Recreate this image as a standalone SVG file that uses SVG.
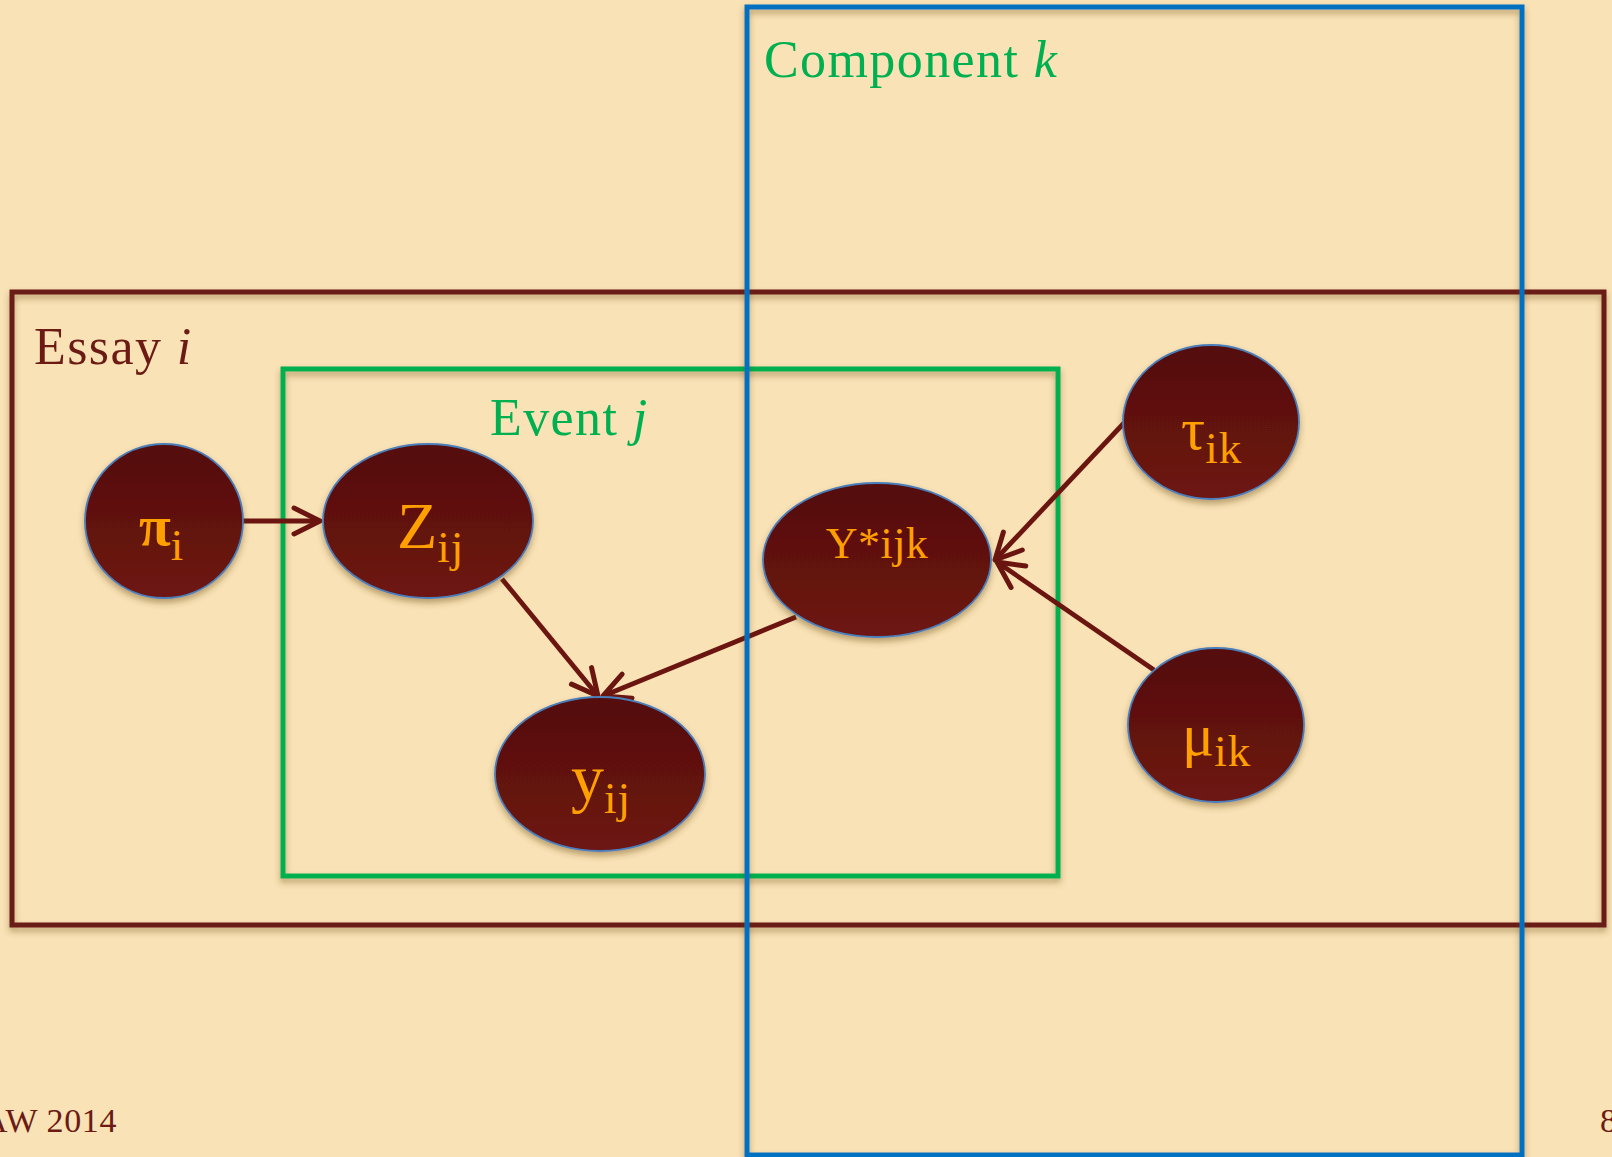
<svg xmlns="http://www.w3.org/2000/svg" width="1612" height="1157" viewBox="0 0 1612 1157">
<style>
.bg{fill:#f9e2b5}
.plate{fill:none;stroke-width:5;filter:url(#sh)}
.node ellipse{fill:url(#ng);stroke:#4a7ebb;stroke-width:1.8;filter:url(#sh)}
.lbl{font-family:"Liberation Serif","DejaVu Serif",serif;fill:#ffa000}
.sub{font-size:45px;letter-spacing:1px}
.title{font-family:"Liberation Serif","DejaVu Serif",serif;font-size:52px;letter-spacing:1.4px}
.foot{font-family:"Liberation Serif","DejaVu Serif",serif;font-size:34px;letter-spacing:0.6px;fill:#6b1a14}
.edge{stroke:#6b1510;stroke-width:4.8;fill:none;marker-end:url(#arr)}
</style>
<defs>
<linearGradient id="ng" x1="0" y1="0" x2="0" y2="1">
<stop offset="0" stop-color="#540e0e"/>
<stop offset="1" stop-color="#6e1512"/>
</linearGradient>
<filter id="sh" x="-20%" y="-20%" width="140%" height="140%">
<feDropShadow dx="0" dy="4" stdDeviation="3" flood-color="#5a3a10" flood-opacity="0.4"/>
</filter>
<marker id="arr" markerUnits="userSpaceOnUse" markerWidth="40" markerHeight="40" viewBox="-30 -20 40 40" refX="0" refY="0" orient="auto">
<path d="M-26,-13 L0,0 L-26,13" fill="none" stroke="#6b1510" stroke-width="5" stroke-linecap="round" stroke-linejoin="round"/>
</marker>
</defs>
<rect class="bg" x="0" y="0" width="1612" height="1157"/>
<g id="plate-essay">
<rect class="plate" x="12" y="292" width="1592" height="633" stroke="#6b1a14"/>
<text class="title" x="34" y="364" fill="#6b1a14">Essay <tspan font-style="italic">i</tspan></text>
</g>
<g id="plate-event">
<rect class="plate" x="283" y="369" width="775" height="507" stroke="#00b050"/>
<text class="title" x="490" y="435" fill="#00b050">Event <tspan font-style="italic">j</tspan></text>
</g>
<g id="connectors">
<line class="edge" x1="243" y1="521" x2="320" y2="521"/>
<line class="edge" x1="502" y1="579" x2="598" y2="696"/>
<line class="edge" x1="796" y1="617" x2="603" y2="696"/>
<line class="edge" x1="1124" y1="423" x2="995" y2="560"/>
<line class="edge" x1="1154" y1="670" x2="997" y2="562"/>
</g>
<g id="node-pi" class="node">
<ellipse cx="164" cy="521" rx="79" ry="77"/>
<text class="lbl" x="139" y="545" font-size="58" font-weight="bold">π<tspan class="sub" font-weight="normal" dy="15">i</tspan></text>
</g>
<g id="node-z" class="node">
<ellipse cx="428" cy="521" rx="105" ry="77"/>
<text class="lbl" x="397" y="548" font-size="66">Z<tspan class="sub" dy="14">ij</tspan></text>
</g>
<g id="node-y" class="node">
<ellipse cx="600" cy="774" rx="105" ry="77"/>
<text class="lbl" x="571" y="800" font-size="66">y<tspan class="sub" dy="13">ij</tspan></text>
</g>
<g id="node-ystar" class="node">
<ellipse cx="877" cy="560" rx="114" ry="77"/>
<text class="lbl" x="877" y="558" font-size="44" letter-spacing="0.5" text-anchor="middle">Y*ijk</text>
</g>
<g id="node-tau" class="node">
<ellipse cx="1211" cy="422" rx="88" ry="77"/>
<text class="lbl" x="1181" y="449" font-size="60">τ<tspan class="sub" dy="14">ik</tspan></text>
</g>
<g id="node-mu" class="node">
<ellipse cx="1216" cy="725" rx="88" ry="77"/>
<text class="lbl" x="1182" y="755" font-size="60">μ<tspan class="sub" dy="11">ik</tspan></text>
</g>
<g id="plate-component">
<rect class="plate" x="747" y="7" width="775" height="1148" stroke="#0070c0"/>
<text class="title" x="764" y="77" fill="#00b050">Component <tspan font-style="italic">k</tspan></text>
</g>
<g id="footer">
<text class="foot" x="-17" y="1132">AW 2014</text>
<text class="foot" x="1600" y="1132">8</text>
</g>
</svg>
